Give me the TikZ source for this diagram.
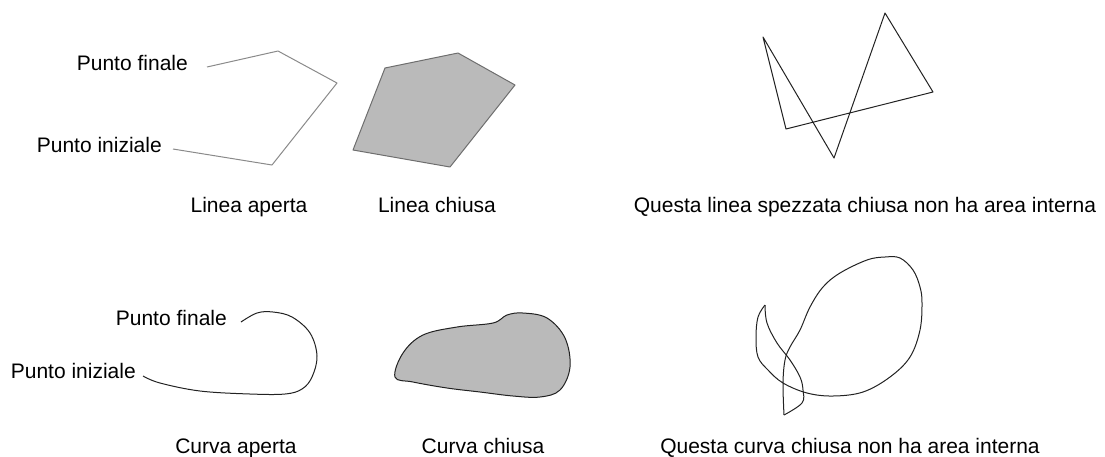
\documentclass[tikz,border=0pt]{standalone}
\usepackage{fontspec}
\setmainfont{Liberation Sans}
\definecolor{Opencol}{HTML}{8A8A8A}
\definecolor{Fillcol}{HTML}{BABABA}
\definecolor{Edgecol}{HTML}{6E6E6E}
\definecolor{Linecol}{HTML}{222222}
\tikzset{
    labeltext/.style={font=\fontsize{21}{25}\selectfont, inner sep=0pt},
    thinline/.style={line width=1pt, line join=round}
}

\begin{document}
\begin{tikzpicture}[x=1pt, y=-1pt]
    \useasboundingbox (0,0) rectangle (1105,456);

    % Open polygonal line
    \coordinate (A1) at (173,149);
    \coordinate (A2) at (272,165);
    \coordinate (A3) at (337,83);
    \coordinate (A4) at (278,51);
    \coordinate (A5) at (207,67);
    \draw[Opencol, thinline] (A1) -- (A2) -- (A3) -- (A4) -- (A5);
    \node[labeltext, anchor=base east] (fin1) at (188,70) {Punto finale};
    \node[labeltext, anchor=base east] (ini1) at (162,152) {Punto iniziale};

    % Closed polygon
    \coordinate (B1) at (385,68);
    \coordinate (B2) at (458,53);
    \coordinate (B3) at (515,85);
    \coordinate (B4) at (450,167);
    \coordinate (B5) at (353,150);
    \filldraw[fill=Fillcol, draw=Edgecol, thinline] (B1) -- (B2) -- (B3) -- (B4) -- (B5) -- cycle;

    % Crossed polygon
    \coordinate (C1) at (763,37);
    \coordinate (C2) at (834,158);
    \coordinate (C3) at (885,13);
    \coordinate (C4) at (933,92);
    \coordinate (C5) at (786,129);
    \draw[Linecol, thinline] (C1) -- (C2) -- (C3) -- (C4) -- (C5) -- cycle;

    % Captions (lines)
    \node[labeltext, anchor=base] (capA) at (249,212) {Linea aperta};
    \node[labeltext, anchor=base] (capB) at (437,212) {Linea chiusa};
    \node[labeltext, anchor=base] (capC) at (865,212) {Questa linea spezzata chiusa non ha area interna};

    % Open curve
    \draw[Linecol, thinline] plot[smooth, tension=0.6] coordinates {
        (143,376) (160,383) (200,391) (250,394) (285,394) (302,389) (312,377)
        (317,356) (310,333) (292,317) (273,312) (257,313) (241,322)};
    \node[labeltext, anchor=base east] (fin2) at (227,325) {Punto finale};
    \node[labeltext, anchor=base east] (ini2) at (136,378) {Punto iniziale};

    % Closed curve
    \filldraw[fill=Fillcol, draw=Linecol, thinline] plot[smooth cycle, tension=0.6] coordinates {
        (395,377) (403,353) (423,335) (457,327) (493,323) (507,315) (523,313)
        (547,318) (565,338) (570,367) (560,390) (540,397) (513,396) (480,392)
        (447,388) (413,382)};

    % Crossed curve
    \draw[Linecol, thinline] plot[smooth, tension=0.6] coordinates {
        (765,305) (758,317) (756,337) (758,357) (768,370) (783,383) (807,393)
        (833,396) (863,392) (890,377) (910,357) (920,330) (922,303) (920,287)
        (913,270) (900,258) (885,257) (867,260) (840,273) (823,287) (810,307)
        (800,330) (790,347) (785,360) (783,383) (784,415)};
    \draw[Linecol, thinline] plot[smooth, tension=0.6] coordinates {
        (784,415) (802,403) (803,390) (800,377) (790,360) (777,343) (767,323)
        (765,305)};

    % Captions (curves)
    \node[labeltext, anchor=base] (capD) at (236,453) {Curva aperta};
    \node[labeltext, anchor=base] (capE) at (483,453) {Curva chiusa};
    \node[labeltext, anchor=base] (capF) at (850,453) {Questa curva chiusa non ha area interna};
\end{tikzpicture}
\end{document}
